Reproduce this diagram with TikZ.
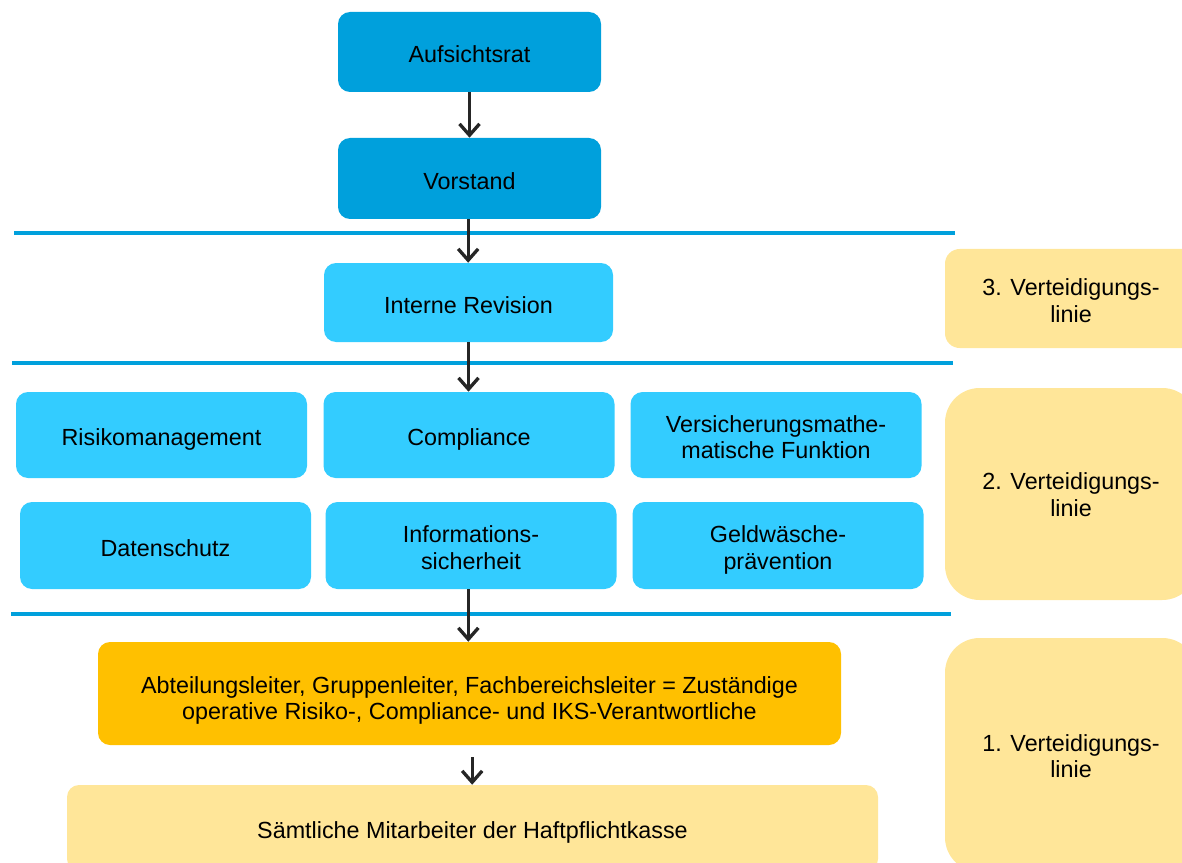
\documentclass[tikz,border=0pt]{standalone}
\usepackage{fontspec}
\setmainfont{Liberation Sans}
\usetikzlibrary{arrows.meta,calc}
\definecolor{dblue}{HTML}{00A0DC}
\definecolor{lblue}{HTML}{33CCFF}
\definecolor{orangebox}{HTML}{FFC000}
\definecolor{lyellow}{HTML}{FFE699}
\definecolor{arrowgray}{HTML}{262626}
\newcommand\onestrut{\rule[-4pt]{0pt}{23.8pt}}
\newcommand\firststrut[1][19.8pt]{\rule{0pt}{#1}}
\newcommand\laststrut{\rule[-4pt]{0pt}{0pt}}
\begin{document}
\begin{tikzpicture}[x=0.75pt,y=-0.75pt,
  box/.style={rounded corners=9pt, inner sep=0pt, align=center,
    font=\fontsize{17.5}{20}\selectfont, text=black},
  topbox/.style={box, fill=dblue, minimum width=197.25pt},
  funcbox/.style={box, fill=lblue, minimum width=218.25pt},
  linebox/.style={box, fill=lyellow, minimum width=189pt},
  divider/.style={draw=dblue, line width=3pt},
  flow/.style={draw=arrowgray, line width=2.5pt,
    -{Straight Barb[length=8.5pt,width=15pt,line width=2.5pt]}}
]
\useasboundingbox (0,0) rectangle (1182,863);
\clip (0,0) rectangle (1182,863);

% top boxes
\node[topbox, minimum height=60pt] (auf) at (469.5,52) {\onestrut Aufsichtsrat};
\node[topbox, minimum height=60.75pt] (vor) at (469.5,178.5) {\onestrut Vorstand};
\node[box, fill=lblue, minimum width=216.75pt, minimum height=59.25pt] (rev) at (468.5,302.5) {\onestrut Interne Revision};

% second line functions
\node[funcbox, minimum height=64.5pt] (risk) at (161.5,435) {\onestrut Risikomanagement};
\node[funcbox, minimum height=64.5pt] (comp) at (469,435) {\onestrut Compliance};
\node[funcbox, minimum height=64.5pt] (vma) at (776,435) {\firststrut Versicherungsmathe-\\matische Funktion\laststrut};
\node[funcbox, minimum height=65.25pt] (dat) at (165.5,545.5) {\onestrut Datenschutz};
\node[funcbox, minimum height=65.25pt] (inf) at (471,545.5) {\firststrut Informations-\\sicherheit\laststrut};
\node[funcbox, minimum height=65.25pt] (geld) at (778,545.5) {\firststrut Geldwäsche-\\prävention\laststrut};

% first line
\node[box, fill=orangebox, minimum width=557.25pt, minimum height=77.25pt] (abt) at (469.5,693.5)
  {\firststrut[23.5pt]Abteilungsleiter, Gruppenleiter, Fachbereichsleiter = Zuständige\\operative Risiko-, Compliance- und IKS-Verantwortliche\laststrut};
\node[box, fill=lyellow, minimum width=608.25pt, minimum height=64.5pt] (mit) at (472.5,828)
  {\onestrut Sämtliche Mitarbeiter der Haftpflichtkasse};

% lines of defence
\node[linebox, rounded corners=11pt, minimum height=74.25pt] (l3) at (1071,298.5) {\firststrut 3. Verteidigungs-\\linie\laststrut};
\node[linebox, rounded corners=26pt, minimum height=159pt] (l2) at (1071,494) {\firststrut[17pt]2. Verteidigungs-\\linie\laststrut};
\node[linebox, rounded corners=26pt, minimum height=175.5pt] (l1) at (1071,755) {\firststrut[18pt]1. Verteidigungs-\\linie\laststrut};

% dividers
\draw[divider] (14,233) -- (955,233);
\draw[divider] (12,363) -- (953,363);
\draw[divider] (11,614) -- (951,614);

% arrows
\draw[flow] (auf.south) -- (auf.south |- vor.north);
\draw[flow] ([xshift=-1pt]vor.south) -- ([xshift=-1pt]vor.south |- rev.north);
\draw[flow] (rev.south) -- (rev.south |- comp.north);
\draw[flow] ([xshift=-2pt]inf.south) -- ([xshift=-2pt]inf.south |- abt.north);
\draw[flow, shorten <=9pt] ([xshift=2pt]abt.south) -- ([xshift=2pt]abt.south |- mit.north);
\end{tikzpicture}
\end{document}
